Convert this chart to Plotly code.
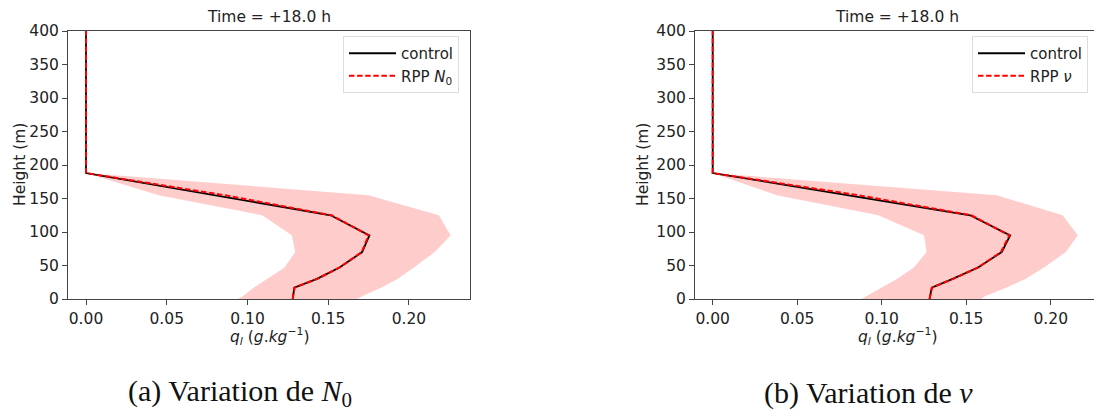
import plotly.graph_objects as go

# ---------------- data ----------------
heights = [0, 4, 17, 30, 47, 70, 95, 125, 155, 188, 200, 300, 400]

control_a = [0.128, 0.1283, 0.129, 0.143, 0.157, 0.171, 0.1755, 0.1515, 0.0795, 0.0, 0.0, 0.0, 0.0]
rpp_a     = [0.128, 0.1283, 0.1292, 0.1432, 0.157, 0.1708, 0.175, 0.1522, 0.0855, 0.0, 0.0, 0.0, 0.0]
min_a     = [0.094, 0.097, 0.104, 0.112, 0.123, 0.1295, 0.1275, 0.109, 0.045, 0.0, 0.0, 0.0, 0.0]
max_a     = [0.168, 0.171, 0.183, 0.193, 0.203, 0.216, 0.2258, 0.2185, 0.175, 0.0, 0.0, 0.0, 0.0]

control_b = [0.1283, 0.1286, 0.1296, 0.142, 0.157, 0.171, 0.176, 0.1523, 0.0798, 0.0, 0.0, 0.0, 0.0]
rpp_b     = [0.1283, 0.1286, 0.1298, 0.1422, 0.157, 0.1705, 0.1755, 0.153, 0.086, 0.0, 0.0, 0.0, 0.0]
min_b     = [0.088, 0.091, 0.1, 0.109, 0.119, 0.1265, 0.125, 0.098, 0.038, 0.0, 0.0, 0.0, 0.0]
max_b     = [0.159, 0.161, 0.174, 0.185, 0.196, 0.209, 0.216, 0.207, 0.168, 0.0, 0.0, 0.0, 0.0]

x_ticks = [0.0, 0.05, 0.10, 0.15, 0.20]
x_tick_labels = ["0.00", "0.05", "0.10", "0.15", "0.20"]
y_ticks = [0, 50, 100, 150, 200, 250, 300, 350, 400]

panel_title = "Time = +18.0 h"
x_title = "<i>q<sub>l</sub></i> (<i>g</i>.<i>kg</i><sup>−1</sup>)"
y_title = "Height (m)"
captions = ["(a) Variation de <i>N</i><sub>0</sub>", "(b) Variation de <i>ν</i>"]
rpp_names = ["RPP <i>N</i><sub>0</sub>", "RPP <i>ν</i>"]

# ---------------- figure ----------------
W, H = 1094, 415
fig = go.Figure()

band_color = "rgba(255,0,0,0.2)"
panels = [
    dict(xa="x", ya="y", ctrl=control_a, rpp=rpp_a, lo=min_a, hi=max_a, legend="legend"),
    dict(xa="x2", ya="y2", ctrl=control_b, rpp=rpp_b, lo=min_b, hi=max_b, legend="legend2"),
]
for i, p in enumerate(panels):
    fig.add_trace(go.Scatter(x=p["lo"], y=heights, mode="lines", line=dict(width=0, color=band_color),
                             xaxis=p["xa"], yaxis=p["ya"], showlegend=False, hoverinfo="skip"))
    fig.add_trace(go.Scatter(x=p["hi"], y=heights, mode="lines", line=dict(width=0, color=band_color),
                             fill="tonextx", fillcolor=band_color,
                             xaxis=p["xa"], yaxis=p["ya"], showlegend=False, hoverinfo="skip"))
    fig.add_trace(go.Scatter(x=p["ctrl"], y=heights, mode="lines", name="control",
                             line=dict(color="black", width=1.8),
                             xaxis=p["xa"], yaxis=p["ya"], legend=p["legend"]))
    fig.add_trace(go.Scatter(x=p["rpp"], y=heights, mode="lines", name=rpp_names[i],
                             line=dict(color="#ff0000", width=2, dash="5.5px,2.6px"),
                             xaxis=p["xa"], yaxis=p["ya"], legend=p["legend"]))

tick_font = dict(family="DejaVu Sans", size=15.5, color="#222")
axis_common = dict(showgrid=False, zeroline=False, showline=True, linecolor="#444", linewidth=1,
                   ticks="outside", ticklen=5, tickcolor="#444", tickwidth=1, tickfont=tick_font,
                   automargin=False)
legend_common = dict(xanchor="left", yanchor="top", traceorder="normal", itemwidth=47,
                     bgcolor="rgba(255,255,255,0.8)", bordercolor="#dddddd", borderwidth=1,
                     font=dict(family="DejaVu Sans", size=15, color="#222"), tracegroupgap=0)

yd = [1 - 299 / H, 1 - 31 / H]
fig.update_layout(
    width=W, height=H, margin=dict(l=0, r=0, t=0, b=0, autoexpand=False), autosize=False,
    paper_bgcolor="white", plot_bgcolor="white",
    xaxis=dict(domain=[68 / W, 470 / W], range=[-0.01115, 0.2378], anchor="y",
               tickvals=x_ticks, ticktext=x_tick_labels, mirror=True, **axis_common),
    yaxis=dict(domain=yd, range=[0, 400], anchor="x", tickvals=y_ticks, mirror=True, **axis_common),
    xaxis2=dict(domain=[695 / W, 1.0], range=[-0.01047, 0.2256], anchor="y2",
                tickvals=x_ticks, ticktext=x_tick_labels, mirror=True, **axis_common),
    yaxis2=dict(domain=yd, range=[0, 400], anchor="x2", tickvals=y_ticks, mirror=False, **axis_common),
    legend=dict(x=343 / W, y=1 - 36 / H, **legend_common),
    legend2=dict(x=972 / W, y=1 - 36 / H, **legend_common),
    showlegend=True,
)

ann = []
title_font = dict(family="DejaVu Sans", size=15.5, color="#222")
for cx, ytx in [(269, 20), (897, 643)]:
    ann.append(dict(text=panel_title, x=cx / W, y=1 - 17 / H, xref="paper", yref="paper",
                    xanchor="center", yanchor="middle", showarrow=False, font=title_font))
    ann.append(dict(text=x_title, x=(cx + 1) / W, y=1 - 336 / H, xref="paper", yref="paper",
                    xanchor="center", yanchor="middle", showarrow=False, font=title_font))
    ann.append(dict(text=y_title, x=ytx / W, y=1 - 165 / H, xref="paper", yref="paper",
                    xanchor="center", yanchor="middle", showarrow=False, textangle=-90, font=title_font))
for cap, cap_x in zip(captions, [240, 868]):
    ann.append(dict(text=cap, x=cap_x / W, y=1 - 393 / H, xref="paper", yref="paper",
                    xanchor="center", yanchor="middle", showarrow=False,
                    font=dict(family="Liberation Serif", size=30, color="#111")))
fig.update_layout(annotations=ann)

fig.write_html("out.html", config={"displayModeBar": False},
               post_script="document.body.style.margin='0px';")
